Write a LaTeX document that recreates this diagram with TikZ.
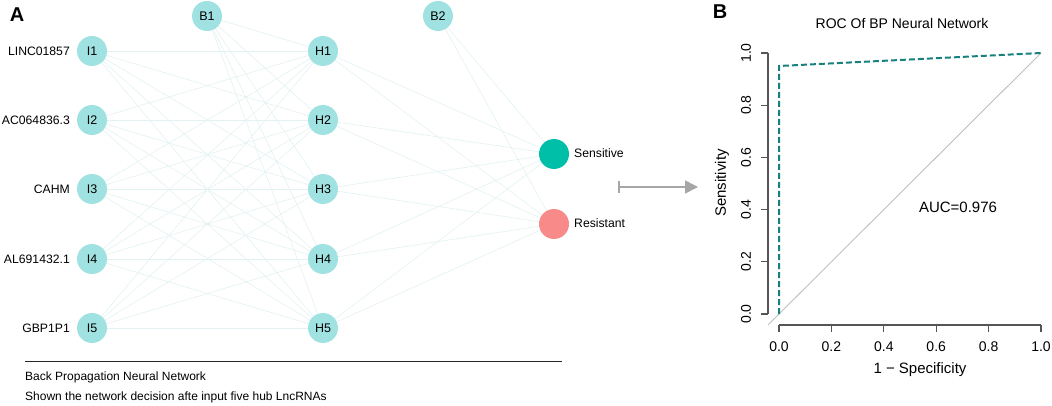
\documentclass[tikz,border=0pt]{standalone}
\usepackage{fontspec}
\setmainfont{Liberation Sans}
\usetikzlibrary{arrows.meta,backgrounds}
\definecolor{nodecol}{HTML}{A0E2E2}
\definecolor{sens}{HTML}{00BFA8}
\definecolor{resi}{HTML}{F88A8A}
\definecolor{edgecol}{HTML}{E2F1F1}
\definecolor{roccol}{HTML}{18807F}
\definecolor{axcol}{HTML}{555555}
\begin{document}
\begin{tikzpicture}[x=1pt,y=-1pt,
  neuron/.style={circle,fill=nodecol,minimum size=30pt,inner sep=0pt,font=\fontsize{12.5}{14}\selectfont},
  outn/.style={circle,minimum size=30pt,inner sep=0pt},
  lab/.style={font=\fontsize{12.2}{14}\selectfont,inner sep=0pt},
  wire/.style={draw=edgecol,line width=0.6pt},
  ax/.style={draw=axcol,line width=1.2pt},
  tick/.style={font=\fontsize{14}{16}\selectfont,inner sep=0pt}]
\useasboundingbox (0,0) rectangle (1052,406);
% panel A
\node[font=\bfseries\fontsize{20}{22}\selectfont,inner sep=0pt] (A) at (17,15) {A};
\foreach \i/\y in {1/51,2/120,3/189,4/259,5/328}{
  \node[neuron] (I\i) at (92,\y) {I\i};
  \node[neuron] (H\i) at (323,\y) {H\i};
}
\node[neuron] (B1) at (207,16) {B1};
\node[neuron] (B2) at (438,16) {B2};
\node[outn,fill=sens] (S) at (554,154) {};
\node[outn,fill=resi] (R) at (554,224) {};
% edges
\begin{scope}[on background layer]
\foreach \i in {1,...,5}{
  \foreach \j in {1,...,5}{ \draw[wire] (I\i.center) -- (H\j.center); }
  \draw[wire] (B1.center) -- (H\i.center);
  \draw[wire] (H\i.center) -- (S.center);
  \draw[wire] (H\i.center) -- (R.center);
}
\draw[wire] (B2.center) -- (S.center);
\draw[wire] (B2.center) -- (R.center);
\end{scope}
% input labels
\node[lab,anchor=east] (L1) at (70,51) {LINC01857};
\node[lab,anchor=east] (L2) at (70,120) {AC064836.3};
\node[lab,anchor=east] (L3) at (70,189) {CAHM};
\node[lab,anchor=east] (L4) at (70,259) {AL691432.1};
\node[lab,anchor=east] (L5) at (70,328) {GBP1P1};
\node[lab,anchor=west] (LS) at (574,153) {Sensitive};
\node[lab,anchor=west] (LR) at (574,223) {Resistant};
% caption
\coordinate (c1) at (25,361);
\coordinate (c2) at (562,361);
\draw[line width=0.9pt,black!85] (c1) -- (c2);
\node[font=\fontsize{12}{14}\selectfont,anchor=west,inner sep=0pt] (cap1) at (25,377) {Back Propagation Neural Network};
\node[font=\fontsize{12}{14}\selectfont,anchor=west,inner sep=0pt] (cap2) at (25,397) {Shown the network decision afte input five hub LncRNAs};
% arrow
\coordinate (a1) at (618,187);
\coordinate (a2) at (698,187);
\draw[draw=black!35,line width=1.6pt,{Bar[width=12pt]}-{Triangle[length=13pt,width=13pt]}] (a1) -- (a2);
% panel B
\node[font=\bfseries\fontsize{20}{22}\selectfont,inner sep=0pt] (B) at (720,12) {B};
\node[font=\fontsize{14}{16}\selectfont] (title) at (902,23) {ROC Of BP Neural Network};
% axes
\draw[ax] (768,53) -- (768,314);
\draw[ax] (779,325) -- (1041,325);
\foreach \v/\t in {0/0.0,0.2/0.2,0.4/0.4,0.6/0.6,0.8/0.8,1/1.0}{
  \draw[ax] (768,{314-261*\v}) -- (761,{314-261*\v});
  \node[tick,rotate=90] at (746,{314-261*\v}) {\t};
  \draw[ax] ({779+262*\v},325) -- ({779+262*\v},332);
  \node[tick] at ({779+262*\v},347) {\t};
}
\node[font=\fontsize{15}{17}\selectfont] (xl) at (920,370) {1 − Specificity};
\node[font=\fontsize{15}{17}\selectfont,rotate=90] (yl) at (722,183) {Sensitivity};
% diagonal
\draw[draw=black!25,line width=0.9pt] (768,325) -- (1041,53);
% ROC curve
\coordinate (r0) at (779,314);
\coordinate (r1) at (779,66);
\coordinate (r2) at (1041,53);
\draw[roccol,line width=2pt,dash pattern=on 6pt off 3pt] (r0) -- (r1) -- (r2);
\node[font=\fontsize{15}{17}\selectfont] (auc) at (958,207) {AUC=0.976};
\end{tikzpicture}
\end{document}
